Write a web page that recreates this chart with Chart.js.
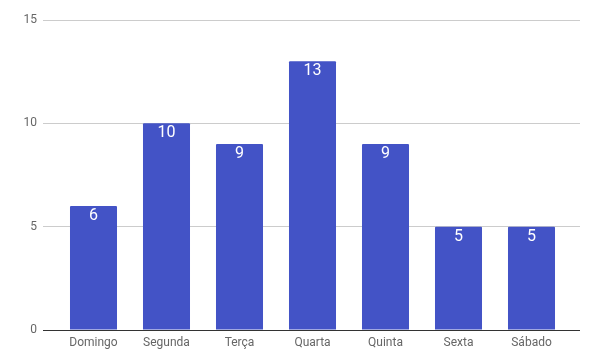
<!DOCTYPE html>
<html><head><meta charset="utf-8">
<script src="https://cdn.jsdelivr.net/npm/chart.js@4.4.1/dist/chart.umd.min.js"></script>
<style>html,body{margin:0;padding:0;background:#fff}#w{width:594px;height:363px}</style>
</head><body><div id="w"><canvas id="c"></canvas></div>
<script>
const categories = ["Domingo","Segunda","Terça","Quarta","Quinta","Sexta","Sábado"];
const values = [6,10,9,13,9,5,5];
const yTicks = [0,5,10,15];

const labelPlugin = {
  id:'vals',
  afterDatasetsDraw(chart){
    const ctx = chart.ctx;
    const meta = chart.getDatasetMeta(0);
    ctx.save();
    ctx.fillStyle = '#fff';
    ctx.font = '16px Roboto';
    ctx.textAlign = 'center';
    ctx.textBaseline = 'top';
    meta.data.forEach((bar,i)=>{
      ctx.fillText(String(values[i]), bar.x, bar.y + 2);
    });
    ctx.restore();
  }
};

const gridColor = c => c.tick && c.tick.value === 0 ? '#333' : '#ccc';

new Chart(document.getElementById('c'), {
  type:'bar',
  data:{labels:categories, datasets:[{data:values, backgroundColor:'#4353C6', categoryPercentage:0.644, barPercentage:1, borderRadius:1}]},
  options:{
    responsive:true, maintainAspectRatio:false, animation:false,
    layout:{padding:{top:20,right:0,left:0,bottom:0}},
    plugins:{legend:{display:false}, tooltip:{enabled:false}},
    scales:{
      x:{
        grid:{display:false, drawTicks:false},
        border:{display:false},
        ticks:{color:'#666', font:{family:'Roboto', size:12}, padding:6},
        afterFit(s){ s.height = 33; }
      },
      y:{
        min:0, max:15,
        afterBuildTicks(s){ s.ticks = yTicks.map(v=>({value:v})); },
        grid:{color:gridColor, tickColor:gridColor, drawTicks:true, tickLength:14},
        border:{display:false},
        ticks:{color:'#666', font:{family:'Roboto', size:12}, padding:6},
        afterFit(s){ s.width = 57; }
      },
      y2:{
        position:'right', min:0, max:15,
        afterBuildTicks(s){ s.ticks = yTicks.map(v=>({value:v})); },
        grid:{color:gridColor, tickColor:gridColor, drawTicks:true, tickLength:12, drawOnChartArea:false},
        border:{display:false},
        ticks:{display:true, color:'rgba(0,0,0,0)', font:{size:1}},
        afterFit(s){ s.width = 26; }
      }
    }
  },
  plugins:[labelPlugin]
});
</script></body></html>
